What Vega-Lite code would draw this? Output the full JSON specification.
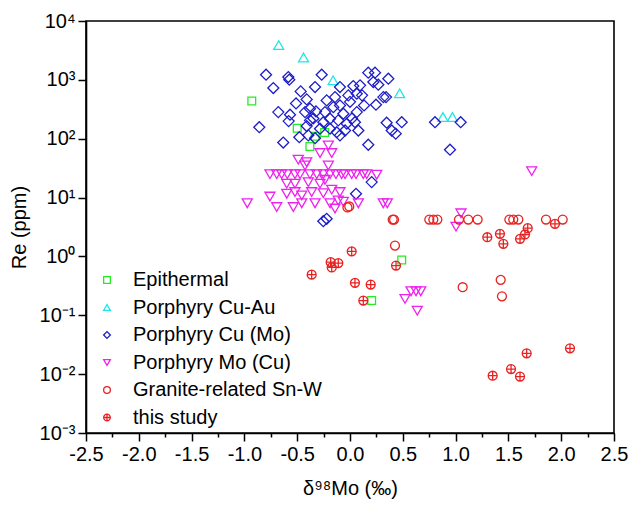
{
  "$schema": "https://vega.github.io/schema/vega-lite/v6.json",
  "width": 528,
  "height": 412,
  "autosize": {"type": "none"},
  "padding": {"left": 86, "top": 21, "right": 18, "bottom": 76},
  "background": "white",
  "config": {
    "font": "Liberation Sans",
    "view": {"stroke": "black", "strokeWidth": 1.6},
    "axis": {
      "grid": false,
      "domainColor": "black",
      "domainWidth": 1.6,
      "tickColor": "black",
      "tickWidth": 1.5,
      "labelColor": "black",
      "labelFont": "Liberation Sans",
      "labelFontSize": 20,
      "titleFont": "Liberation Sans",
      "titleFontSize": 20,
      "titleFontWeight": "normal",
      "titleColor": "black"
    },
    "legend": {
      "orient": "none",
      "legendX": 11,
      "legendY": 249,
      "padding": 0,
      "labelFont": "Liberation Sans",
      "labelFontSize": 20,
      "labelColor": "black",
      "symbolSize": 45,
      "symbolStrokeWidth": 1.3,
      "rowPadding": 7.5,
      "labelOffset": 16,
      "labelLimit": 300
    }
  },
  "data": {
    "values": [
      {"x": -0.93, "re": 436, "type": "Epithermal"},
      {"x": -0.50, "re": 151, "type": "Epithermal"},
      {"x": -0.33, "re": 110, "type": "Epithermal"},
      {"x": -0.38, "re": 74, "type": "Epithermal"},
      {"x": -0.24, "re": 128, "type": "Epithermal"},
      {"x": 0.49, "re": 0.87, "type": "Epithermal"},
      {"x": 0.205, "re": 0.178, "type": "Epithermal"},

      {"x": -0.675, "re": 3900, "type": "Porphyry Cu-Au"},
      {"x": -0.44, "re": 2400, "type": "Porphyry Cu-Au"},
      {"x": -0.16, "re": 980, "type": "Porphyry Cu-Au"},
      {"x": 0.47, "re": 590, "type": "Porphyry Cu-Au"},
      {"x": 0.88, "re": 234, "type": "Porphyry Cu-Au"},
      {"x": 0.97, "re": 234, "type": "Porphyry Cu-Au"},

      {"x": -0.795, "re": 1225, "type": "Porphyry Cu (Mo)"},
      {"x": -0.726, "re": 726, "type": "Porphyry Cu (Mo)"},
      {"x": -0.584, "re": 1117, "type": "Porphyry Cu (Mo)"},
      {"x": -0.575, "re": 1008, "type": "Porphyry Cu (Mo)"},
      {"x": -0.268, "re": 1225, "type": "Porphyry Cu (Mo)"},
      {"x": -0.331, "re": 755, "type": "Porphyry Cu (Mo)"},
      {"x": -0.467, "re": 637, "type": "Porphyry Cu (Mo)"},
      {"x": -0.410, "re": 466, "type": "Porphyry Cu (Mo)"},
      {"x": -0.679, "re": 283, "type": "Porphyry Cu (Mo)"},
      {"x": -0.568, "re": 256, "type": "Porphyry Cu (Mo)"},
      {"x": -0.859, "re": 157, "type": "Porphyry Cu (Mo)"},
      {"x": -0.426, "re": 283, "type": "Porphyry Cu (Mo)"},
      {"x": -0.379, "re": 324, "type": "Porphyry Cu (Mo)"},
      {"x": -0.322, "re": 291, "type": "Porphyry Cu (Mo)"},
      {"x": -0.410, "re": 164, "type": "Porphyry Cu (Mo)"},
      {"x": -0.480, "re": 106, "type": "Porphyry Cu (Mo)"},
      {"x": -0.395, "re": 114, "type": "Porphyry Cu (Mo)"},
      {"x": -0.632, "re": 86, "type": "Porphyry Cu (Mo)"},
      {"x": -0.221, "re": 448, "type": "Porphyry Cu (Mo)"},
      {"x": -0.142, "re": 509, "type": "Porphyry Cu (Mo)"},
      {"x": -0.095, "re": 755, "type": "Porphyry Cu (Mo)"},
      {"x": 0.031, "re": 785, "type": "Porphyry Cu (Mo)"},
      {"x": 0.095, "re": 806, "type": "Porphyry Cu (Mo)"},
      {"x": 0.173, "re": 1325, "type": "Porphyry Cu (Mo)"},
      {"x": 0.237, "re": 1325, "type": "Porphyry Cu (Mo)"},
      {"x": 0.221, "re": 918, "type": "Porphyry Cu (Mo)"},
      {"x": 0.268, "re": 828, "type": "Porphyry Cu (Mo)"},
      {"x": 0.363, "re": 1047, "type": "Porphyry Cu (Mo)"},
      {"x": 0.064, "re": 582, "type": "Porphyry Cu (Mo)"},
      {"x": -0.016, "re": 545, "type": "Porphyry Cu (Mo)"},
      {"x": 0.0, "re": 423, "type": "Porphyry Cu (Mo)"},
      {"x": -0.095, "re": 368, "type": "Porphyry Cu (Mo)"},
      {"x": -0.158, "re": 344, "type": "Porphyry Cu (Mo)"},
      {"x": -0.063, "re": 266, "type": "Porphyry Cu (Mo)"},
      {"x": 0.064, "re": 283, "type": "Porphyry Cu (Mo)"},
      {"x": 0.133, "re": 368, "type": "Porphyry Cu (Mo)"},
      {"x": 0.246, "re": 378, "type": "Porphyry Cu (Mo)"},
      {"x": 0.316, "re": 509, "type": "Porphyry Cu (Mo)"},
      {"x": 0.341, "re": 509, "type": "Porphyry Cu (Mo)"},
      {"x": -0.237, "re": 283, "type": "Porphyry Cu (Mo)"},
      {"x": -0.189, "re": 219, "type": "Porphyry Cu (Mo)"},
      {"x": -0.111, "re": 205, "type": "Porphyry Cu (Mo)"},
      {"x": -0.031, "re": 180, "type": "Porphyry Cu (Mo)"},
      {"x": 0.047, "re": 191, "type": "Porphyry Cu (Mo)"},
      {"x": 0.079, "re": 138, "type": "Porphyry Cu (Mo)"},
      {"x": -0.047, "re": 138, "type": "Porphyry Cu (Mo)"},
      {"x": -0.126, "re": 129, "type": "Porphyry Cu (Mo)"},
      {"x": -0.189, "re": 148, "type": "Porphyry Cu (Mo)"},
      {"x": -0.253, "re": 191, "type": "Porphyry Cu (Mo)"},
      {"x": -0.284, "re": 148, "type": "Porphyry Cu (Mo)"},
      {"x": 0.347, "re": 187, "type": "Porphyry Cu (Mo)"},
      {"x": 0.395, "re": 138, "type": "Porphyry Cu (Mo)"},
      {"x": 0.433, "re": 122, "type": "Porphyry Cu (Mo)"},
      {"x": 0.490, "re": 191, "type": "Porphyry Cu (Mo)"},
      {"x": 0.173, "re": 79, "type": "Porphyry Cu (Mo)"},
      {"x": -0.095, "re": 114, "type": "Porphyry Cu (Mo)"},
      {"x": -0.331, "re": 102, "type": "Porphyry Cu (Mo)"},
      {"x": -0.581, "re": 199, "type": "Porphyry Cu (Mo)"},
      {"x": -0.379, "re": 205, "type": "Porphyry Cu (Mo)"},
      {"x": 0.805, "re": 191, "type": "Porphyry Cu (Mo)"},
      {"x": 1.048, "re": 191, "type": "Porphyry Cu (Mo)"},
      {"x": 0.947, "re": 65, "type": "Porphyry Cu (Mo)"},
      {"x": 0.205, "re": 18.3, "type": "Porphyry Cu (Mo)"},
      {"x": 0.057, "re": 11.6, "type": "Porphyry Cu (Mo)"},
      {"x": -0.221, "re": 4.36, "type": "Porphyry Cu (Mo)"},
      {"x": -0.253, "re": 3.97, "type": "Porphyry Cu (Mo)"},
      {"x": -0.347, "re": 221, "type": "Porphyry Cu (Mo)"},
      {"x": -0.511, "re": 398, "type": "Porphyry Cu (Mo)"},
      {"x": 0.114, "re": 545, "type": "Porphyry Cu (Mo)"},
      {"x": 0.019, "re": 221, "type": "Porphyry Cu (Mo)"},

      {"x": -0.758, "re": 25, "type": "Porphyry Mo (Cu)"},
      {"x": -0.694, "re": 25, "type": "Porphyry Mo (Cu)"},
      {"x": -0.647, "re": 25, "type": "Porphyry Mo (Cu)"},
      {"x": -0.594, "re": 25, "type": "Porphyry Mo (Cu)"},
      {"x": -0.521, "re": 25, "type": "Porphyry Mo (Cu)"},
      {"x": -0.473, "re": 25, "type": "Porphyry Mo (Cu)"},
      {"x": -0.379, "re": 25, "type": "Porphyry Mo (Cu)"},
      {"x": -0.315, "re": 25, "type": "Porphyry Mo (Cu)"},
      {"x": -0.253, "re": 25, "type": "Porphyry Mo (Cu)"},
      {"x": -0.189, "re": 25, "type": "Porphyry Mo (Cu)"},
      {"x": -0.133, "re": 25, "type": "Porphyry Mo (Cu)"},
      {"x": -0.079, "re": 25, "type": "Porphyry Mo (Cu)"},
      {"x": -0.047, "re": 25, "type": "Porphyry Mo (Cu)"},
      {"x": 0.016, "re": 25, "type": "Porphyry Mo (Cu)"},
      {"x": 0.057, "re": 25, "type": "Porphyry Mo (Cu)"},
      {"x": 0.126, "re": 25, "type": "Porphyry Mo (Cu)"},
      {"x": 0.158, "re": 25, "type": "Porphyry Mo (Cu)"},
      {"x": 0.253, "re": 24.4, "type": "Porphyry Mo (Cu)"},
      {"x": -0.490, "re": 44, "type": "Porphyry Mo (Cu)"},
      {"x": -0.410, "re": 40, "type": "Porphyry Mo (Cu)"},
      {"x": -0.284, "re": 57, "type": "Porphyry Mo (Cu)"},
      {"x": -0.173, "re": 57, "type": "Porphyry Mo (Cu)"},
      {"x": -0.205, "re": 77, "type": "Porphyry Mo (Cu)"},
      {"x": -0.205, "re": 35, "type": "Porphyry Mo (Cu)"},
      {"x": -0.426, "re": 35, "type": "Porphyry Mo (Cu)"},
      {"x": -0.599, "re": 17.2, "type": "Porphyry Mo (Cu)"},
      {"x": -0.521, "re": 17.2, "type": "Porphyry Mo (Cu)"},
      {"x": -0.395, "re": 18.3, "type": "Porphyry Mo (Cu)"},
      {"x": -0.284, "re": 17.2, "type": "Porphyry Mo (Cu)"},
      {"x": -0.237, "re": 20, "type": "Porphyry Mo (Cu)"},
      {"x": -0.173, "re": 13.6, "type": "Porphyry Mo (Cu)"},
      {"x": -0.095, "re": 12.4, "type": "Porphyry Mo (Cu)"},
      {"x": -0.599, "re": 11.6, "type": "Porphyry Mo (Cu)"},
      {"x": -0.521, "re": 12.4, "type": "Porphyry Mo (Cu)"},
      {"x": -0.457, "re": 10.9, "type": "Porphyry Mo (Cu)"},
      {"x": -0.363, "re": 12.4, "type": "Porphyry Mo (Cu)"},
      {"x": -0.253, "re": 11.9, "type": "Porphyry Mo (Cu)"},
      {"x": -0.758, "re": 10.4, "type": "Porphyry Mo (Cu)"},
      {"x": -0.973, "re": 8.0, "type": "Porphyry Mo (Cu)"},
      {"x": -0.694, "re": 6.9, "type": "Porphyry Mo (Cu)"},
      {"x": -0.537, "re": 6.9, "type": "Porphyry Mo (Cu)"},
      {"x": -0.457, "re": 8.0, "type": "Porphyry Mo (Cu)"},
      {"x": -0.331, "re": 8.0, "type": "Porphyry Mo (Cu)"},
      {"x": -0.189, "re": 8.0, "type": "Porphyry Mo (Cu)"},
      {"x": -0.142, "re": 6.5, "type": "Porphyry Mo (Cu)"},
      {"x": -0.111, "re": 8.9, "type": "Porphyry Mo (Cu)"},
      {"x": -0.063, "re": 8.5, "type": "Porphyry Mo (Cu)"},
      {"x": 0.079, "re": 8.0, "type": "Porphyry Mo (Cu)"},
      {"x": 0.315, "re": 8.0, "type": "Porphyry Mo (Cu)"},
      {"x": 0.353, "re": 8.0, "type": "Porphyry Mo (Cu)"},
      {"x": 1.721, "re": 28.1, "type": "Porphyry Mo (Cu)"},
      {"x": 1.051, "re": 5.4, "type": "Porphyry Mo (Cu)"},
      {"x": 1.004, "re": 3.2, "type": "Porphyry Mo (Cu)"},
      {"x": 0.578, "re": 0.256, "type": "Porphyry Mo (Cu)"},
      {"x": 0.625, "re": 0.256, "type": "Porphyry Mo (Cu)"},
      {"x": 0.670, "re": 0.256, "type": "Porphyry Mo (Cu)"},
      {"x": 0.521, "re": 0.19, "type": "Porphyry Mo (Cu)"},
      {"x": 0.637, "re": 0.12, "type": "Porphyry Mo (Cu)"},

      {"x": -0.007, "re": 7.06, "type": "Granite-related Sn-W"},
      {"x": -0.024, "re": 6.8, "type": "Granite-related Sn-W"},
      {"x": 0.404, "re": 4.24, "type": "Granite-related Sn-W"},
      {"x": 0.417, "re": 4.24, "type": "Granite-related Sn-W"},
      {"x": 0.751, "re": 4.24, "type": "Granite-related Sn-W"},
      {"x": 0.789, "re": 4.24, "type": "Granite-related Sn-W"},
      {"x": 0.827, "re": 4.24, "type": "Granite-related Sn-W"},
      {"x": 1.032, "re": 4.24, "type": "Granite-related Sn-W"},
      {"x": 1.120, "re": 4.24, "type": "Granite-related Sn-W"},
      {"x": 1.209, "re": 4.24, "type": "Granite-related Sn-W"},
      {"x": 1.509, "re": 4.24, "type": "Granite-related Sn-W"},
      {"x": 1.546, "re": 4.24, "type": "Granite-related Sn-W"},
      {"x": 1.594, "re": 4.24, "type": "Granite-related Sn-W"},
      {"x": 1.856, "re": 4.24, "type": "Granite-related Sn-W"},
      {"x": 2.014, "re": 4.24, "type": "Granite-related Sn-W"},
      {"x": 0.426, "re": 1.53, "type": "Granite-related Sn-W"},
      {"x": 1.067, "re": 0.30, "type": "Granite-related Sn-W"},
      {"x": 1.427, "re": 0.40, "type": "Granite-related Sn-W"},
      {"x": 1.439, "re": 0.21, "type": "Granite-related Sn-W"},

      {"x": 1.300, "re": 2.12, "type": "this study"},
      {"x": 1.420, "re": 2.42, "type": "this study"},
      {"x": 1.452, "re": 1.64, "type": "this study"},
      {"x": 1.610, "re": 1.99, "type": "this study"},
      {"x": 1.657, "re": 2.36, "type": "this study"},
      {"x": 1.683, "re": 3.02, "type": "this study"},
      {"x": 1.941, "re": 3.58, "type": "this study"},
      {"x": 0.436, "re": 0.70, "type": "this study"},
      {"x": 0.016, "re": 1.22, "type": "this study"},
      {"x": -0.183, "re": 0.80, "type": "this study"},
      {"x": -0.111, "re": 0.77, "type": "this study"},
      {"x": -0.173, "re": 0.65, "type": "this study"},
      {"x": -0.363, "re": 0.49, "type": "this study"},
      {"x": 0.047, "re": 0.356, "type": "this study"},
      {"x": 0.196, "re": 0.333, "type": "this study"},
      {"x": 0.126, "re": 0.178, "type": "this study"},
      {"x": 1.351, "re": 0.0094, "type": "this study"},
      {"x": 1.525, "re": 0.0122, "type": "this study"},
      {"x": 1.610, "re": 0.0091, "type": "this study"},
      {"x": 1.673, "re": 0.0226, "type": "this study"},
      {"x": 2.083, "re": 0.0275, "type": "this study"}
    ]
  },
  "mark": {"type": "point", "filled": false, "strokeWidth": 1.3, "opacity": 1},
  "encoding": {
    "x": {
      "field": "x",
      "type": "quantitative",
      "scale": {"domain": [-2.5, 2.5], "nice": false, "zero": false},
      "axis": {
        "title": "δ⁹⁸Mo (‰)",
        "values": [-2.5, -2.25, -2, -1.75, -1.5, -1.25, -1, -0.75, -0.5, -0.25, 0, 0.25, 0.5, 0.75, 1, 1.25, 1.5, 1.75, 2, 2.25, 2.5],
        "labelExpr": "abs(datum.value*2-round(datum.value*2))<0.01 ? replace(format(datum.value,'.1f'),'−','-') : ''",
        "tickSize": {"condition": {"test": "abs(datum.value*2-round(datum.value*2))<0.01", "value": 8}, "value": 4},
        "labelPadding": 3,
        "titlePadding": 14,
        "labelFlush": false,
        "labelOverlap": false
      }
    },
    "y": {
      "field": "re",
      "type": "quantitative",
      "scale": {"type": "log", "domain": [0.001, 10000], "nice": false},
      "axis": {
        "title": "Re (ppm)",
        "values": [0.001, 0.01, 0.1, 1, 10, 100, 1000, 10000],
        "labelExpr": "datum.value > 5000 ? '10⁴' : datum.value > 500 ? '10³' : datum.value > 50 ? '10²' : datum.value > 5 ? '10¹' : datum.value > 0.5 ? '10⁰' : datum.value > 0.05 ? '10⁻¹' : datum.value > 0.005 ? '10⁻²' : '10⁻³'",
        "tickSize": 8,
        "labelPadding": 3,
        "titlePadding": 10,
        "labelFlush": false,
        "labelOverlap": false
      }
    },
    "color": {
      "field": "type",
      "type": "nominal",
      "sort": null,
      "scale": {
        "domain": ["Epithermal", "Porphyry Cu-Au", "Porphyry Cu (Mo)", "Porphyry Mo (Cu)", "Granite-related Sn-W", "this study"],
        "range": ["#22ee22", "#22e6e6", "#1c1cc8", "#ee22ee", "#e82222", "#e82222"]
      },
      "legend": {"title": null}
    },
    "shape": {
      "field": "type",
      "type": "nominal",
      "sort": null,
      "scale": {
        "domain": ["Epithermal", "Porphyry Cu-Au", "Porphyry Cu (Mo)", "Porphyry Mo (Cu)", "Granite-related Sn-W", "this study"],
        "range": ["square", "triangle-up", "diamond", "triangle-down", "circle", "M-1,0A1,1,0,1,1,1,0A1,1,0,1,1,-1,0ZM-1,0L1,0M0,-1L0,1"]
      },
      "legend": {"title": null}
    },
    "size": {
      "condition": [
        {"test": "datum.type === 'Epithermal'", "value": 60},
        {"test": "datum.type === 'Porphyry Cu (Mo)'", "value": 120},
        {"test": "datum.type === 'Porphyry Cu-Au' || datum.type === 'Porphyry Mo (Cu)'", "value": 100}
      ],
      "value": 80
    }
  }
}
